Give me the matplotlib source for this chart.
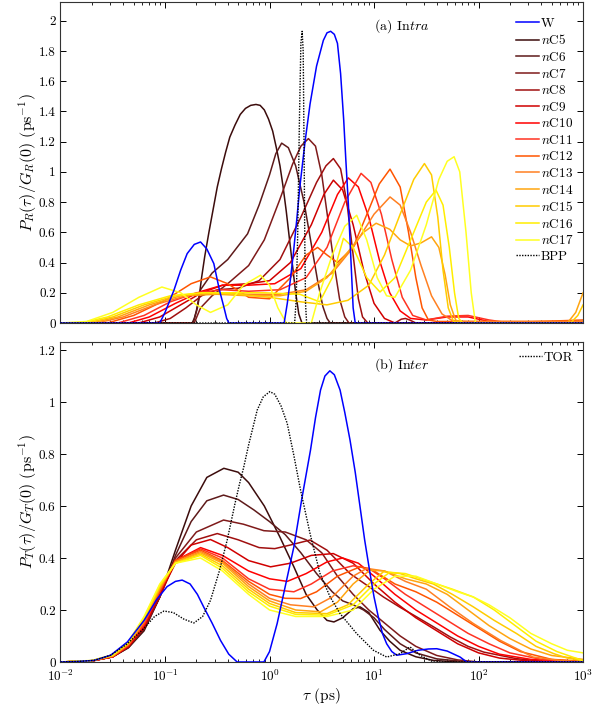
import numpy as np
import matplotlib
matplotlib.use("Agg")
import matplotlib.pyplot as plt

plt.rcParams['font.family'] = 'serif'
plt.rcParams['font.serif'] = ['cmr10']
plt.rcParams['mathtext.fontset'] = 'cm'
plt.rcParams['axes.formatter.use_mathtext'] = True

# ---- data: log10(tau / ps) and P(tau)/G(0) ----
names = ['nC5', 'nC6', 'nC7', 'nC8', 'nC9', 'nC10', 'nC11',
         'nC12', 'nC13', 'nC14', 'nC15', 'nC16', 'nC17']
colors = ['#3c0c0c', '#5e1a1a', '#7f1a1a', '#a00f0f', '#d00000', '#ff0000',
          '#ff3322', '#ff5500', '#ff8022', '#ffa510', '#ffcc00', '#ffee00', '#ffff22']

# (a) intra
a_W_lt = [-2, -1.05, -1.0, -0.915, -0.85, -0.788, -0.72, -0.66, -0.60, -0.533, -0.48, -0.437, -0.41, -0.389,
          0.14, 0.17, 0.20, 0.228, 0.26, 0.29, 0.34, 0.388, 0.45, 0.515, 0.55, 0.585, 0.62, 0.65, 0.68, 0.71,
          0.73, 0.754, 0.78, 0.80, 0.82, 3]
a_W_p = [0, 0, 0.07, 0.216, 0.35, 0.459, 0.52, 0.536, 0.49, 0.393, 0.22, 0.106, 0.03, 0,
         0, 0.13, 0.29, 0.46, 0.68, 0.90, 1.20, 1.45, 1.70, 1.87, 1.92, 1.93, 1.91, 1.85, 1.65, 1.34,
         1.08, 0.79, 0.40, 0.10, 0, 0]

a_BPP_lt = [-2, 0.24, 0.255, 0.27, 0.285, 0.30, 0.312, 0.322, 0.33, 0.338, 0.345, 0.355, 3]
a_BPP_p = [0, 0, 0.15, 0.6, 1.3, 1.85, 1.93, 1.8, 1.2, 0.5, 0.12, 0, 0]

a_nC5_lt = [-2, -0.74, -0.72, -0.70, -0.67, -0.65, -0.62, -0.58, -0.54, -0.50, -0.46, -0.42, -0.38, -0.33,
            -0.28, -0.23, -0.18, -0.13, -0.09, -0.05, -0.01, 0.03, 0.065, 0.10, 0.13, 0.16, 0.185, 0.21, 0.23,
            0.25, 0.28, 0.31, 3]
a_nC5_p = [0, 0, 0.03, 0.08, 0.19, 0.30, 0.44, 0.60, 0.75, 0.90, 1.02, 1.13, 1.23, 1.31,
           1.38, 1.42, 1.44, 1.446, 1.44, 1.41, 1.35, 1.27, 1.16, 1.04, 0.90, 0.74, 0.59, 0.44, 0.32,
           0.20, 0.06, 0, 0]

a_nC6_lt = [-2, -0.73, -0.69, -0.66, -0.55, -0.40, -0.21, -0.10, 0.0, 0.06, 0.116, 0.18, 0.25, 0.33, 0.40, 0.46, 0.51, 0.55, 0.58, 3]
a_nC6_p = [0, 0, 0.10, 0.22, 0.33, 0.42, 0.59, 0.78, 0.98, 1.12, 1.19, 1.16, 1.04, 0.80, 0.52, 0.28, 0.11, 0.03, 0, 0]

a_nC7_lt = [-2, -0.72, -0.66, -0.55, -0.40, -0.20, -0.05, 0.10, 0.22, 0.30, 0.372, 0.44, 0.50, 0.56, 0.62, 0.67, 0.72, 0.76, 3]
a_nC7_p = [0, 0, 0.10, 0.18, 0.26, 0.38, 0.55, 0.82, 1.05, 1.17, 1.22, 1.17, 0.98, 0.68, 0.38, 0.16, 0.04, 0, 0]

a_nC8_lt = [-2, -1.1, -0.95, -0.8, -0.65, -0.5, -0.3, -0.1, 0.1, 0.3, 0.45, 0.54, 0.611, 0.68, 0.74, 0.80, 0.85, 0.89, 0.94,
            1.2, 1.26, 1.30, 1.34, 1.4, 3]
a_nC8_p = [0, 0, 0.03, 0.10, 0.18, 0.22, 0.23, 0.28, 0.42, 0.70, 0.93, 1.04, 1.088, 1.02, 0.80, 0.45, 0.16, 0.04, 0,
           0, 0.025, 0.03, 0.02, 0, 0]

a_nC9_lt = [-2, -1.25, -1.05, -0.85, -0.65, -0.45, -0.2, 0.0, 0.2, 0.4, 0.52, 0.611, 0.7, 0.8, 0.9, 1.0, 1.1, 1.2, 3]
a_nC9_p = [0, 0, 0.04, 0.12, 0.20, 0.25, 0.26, 0.28, 0.40, 0.65, 0.85, 0.945, 0.88, 0.65, 0.35, 0.13, 0.03, 0, 0]

a_nC10_lt = [-2, -1.35, -1.15, -0.9, -0.65, -0.45, -0.2, 0.05, 0.3, 0.5, 0.65, 0.754, 0.85, 0.95, 1.05, 1.15, 1.25,
             1.35, 1.5, 1.7, 1.9, 2.1, 2.3, 3]
a_nC10_p = [0, 0, 0.04, 0.13, 0.21, 0.25, 0.25, 0.26, 0.36, 0.60, 0.85, 0.96, 0.90, 0.70, 0.42, 0.20, 0.08,
            0.03, 0.02, 0.04, 0.04, 0.01, 0, 0]

a_nC11_lt = [-2, -1.45, -1.2, -0.95, -0.7, -0.45, -0.2, 0.1, 0.35, 0.55, 0.72, 0.876, 0.97, 1.07, 1.17, 1.27, 1.37,
             1.5, 1.7, 1.9, 2.1, 2.3, 3]
a_nC11_p = [0, 0, 0.05, 0.14, 0.20, 0.22, 0.21, 0.22, 0.30, 0.50, 0.80, 0.99, 0.93, 0.72, 0.42, 0.17, 0.05,
            0.02, 0.045, 0.05, 0.02, 0, 0]

a_nC12_lt = [-2, -1.55, -1.3, -1.0, -0.75, -0.565, -0.4, -0.2, 0.0, 0.2, 0.35, 0.46, 0.55, 0.65, 0.8, 0.95, 1.05,
             1.153, 1.25, 1.33, 1.4, 1.46, 1.52, 1.6, 2.5, 2.8, 3]
a_nC12_p = [0, 0, 0.05, 0.15, 0.26, 0.305, 0.26, 0.17, 0.16, 0.30, 0.45, 0.50, 0.45, 0.40, 0.50, 0.75, 0.92,
            1.018, 0.90, 0.60, 0.30, 0.10, 0.02, 0.01, 0.01, 0.015, 0.02]

a_nC13_lt = [-2, -1.65, -1.4, -1.1, -0.8, -0.5, -0.2, 0.1, 0.35, 0.6, 0.8, 1.0, 1.153, 1.25, 1.35, 1.45, 1.55,
             1.65, 1.75, 1.9, 3]
a_nC13_p = [0, 0, 0.04, 0.12, 0.18, 0.20, 0.19, 0.19, 0.22, 0.33, 0.50, 0.72, 0.834, 0.78, 0.60, 0.38, 0.18,
            0.06, 0.015, 0.01, 0.01]

a_nC14_lt = [-2, -1.7, -1.45, -1.15, -0.85, -0.5, -0.2, 0.1, 0.35, 0.55, 0.75, 0.9, 1.02, 1.15, 1.25, 1.35, 1.45,
             1.55, 1.62, 1.68, 1.73, 1.78, 1.85, 2.85, 2.93, 3.0]
a_nC14_p = [0, 0, 0.04, 0.12, 0.18, 0.19, 0.18, 0.18, 0.21, 0.30, 0.47, 0.60, 0.66, 0.62, 0.55, 0.51, 0.53,
            0.57, 0.50, 0.32, 0.12, 0.02, 0, 0, 0.07, 0.2]

a_nC15_lt = [-2, -1.75, -1.5, -1.2, -0.9, -0.6, -0.3, 0.0, 0.3, 0.55, 0.75, 0.95, 1.1, 1.25, 1.38, 1.482, 1.55,
             1.61, 1.66, 1.71, 1.76, 1.85, 2.88, 2.95, 3.0]
a_nC15_p = [0, 0, 0.04, 0.12, 0.18, 0.20, 0.19, 0.17, 0.14, 0.12, 0.15, 0.25, 0.45, 0.72, 0.95, 1.055, 0.98,
            0.70, 0.35, 0.10, 0.01, 0, 0, 0.05, 0.12]

a_nC16_lt = [-2, -1.8, -1.55, -1.25, -0.95, -0.65, -0.35, -0.05, 0.29, 0.48, 0.6, 0.707, 0.8, 0.93, 1.057, 1.2,
             1.35, 1.5, 1.593, 1.66, 1.72, 1.77, 1.81, 1.85, 3]
a_nC16_p = [0, 0, 0.04, 0.12, 0.18, 0.20, 0.20, 0.20, 0.19, 0.14, 0.30, 0.56, 0.50, 0.30, 0.205, 0.30,
            0.55, 0.80, 0.879, 0.78, 0.50, 0.20, 0.03, 0, 0]

a_nC17_lt = [-2, -1.75, -1.5, -1.25, -1.03, -0.85, -0.7, -0.565, -0.4, -0.25, -0.086, 0.0, 0.08, 0.16, 0.40, 0.48,
             0.6, 0.72, 0.834, 0.93, 1.03, 1.12, 1.20, 1.35, 1.5, 1.62, 1.70, 1.766, 1.82, 1.88, 1.93, 1.97, 3]
a_nC17_p = [0, 0.01, 0.07, 0.17, 0.238, 0.20, 0.12, 0.07, 0.12, 0.25, 0.316, 0.25, 0.10, 0, 0, 0.20,
            0.45, 0.64, 0.713, 0.55, 0.30, 0.18, 0.17, 0.35, 0.65, 0.95, 1.07, 1.10, 1.00, 0.60, 0.20, 0, 0]

# (b) inter
b_W_lt = [-2, -1.84, -1.68, -1.52, -1.36, -1.2, -1.08, -0.98, -0.9, -0.836, -0.76, -0.69, -0.628, -0.55, -0.469,
          -0.39, -0.31, -0.054, 0.0, 0.073, 0.15, 0.233, 0.31, 0.392, 0.44, 0.488, 0.53, 0.577, 0.62, 0.675, 0.72,
          0.77, 0.82, 0.866, 0.91, 0.962, 1.0, 1.041, 1.08, 1.121, 1.17, 1.217, 1.312, 1.42, 1.52, 1.60, 1.70,
          1.823, 1.887, 3]
b_W_p = [0, 0.002, 0.006, 0.026, 0.077, 0.16, 0.24, 0.29, 0.31, 0.315, 0.30, 0.26, 0.21, 0.15, 0.083,
         0.03, 0, 0, 0.04, 0.148, 0.29, 0.443, 0.63, 0.815, 0.94, 1.046, 1.10, 1.12, 1.105, 1.046, 0.96,
         0.854, 0.73, 0.597, 0.47, 0.34, 0.25, 0.173, 0.11, 0.07, 0.04, 0.026, 0.032, 0.045, 0.05, 0.051, 0.042,
         0.019, 0, 0]

b_TOR_lt = [-2, -1.84, -1.68, -1.52, -1.36, -1.2, -1.1, -1.01, -0.92, -0.82, -0.724, -0.64, -0.565, -0.48, -0.405,
            -0.33, -0.29, -0.246, -0.2, -0.16, -0.118, -0.06, 0.003, 0.05, 0.11, 0.169, 0.23, 0.297, 0.39, 0.483,
            0.58, 0.675, 0.834, 0.994, 1.121, 1.249, 1.344, 1.44, 1.568, 3]
b_TOR_p = [0, 0.002, 0.006, 0.026, 0.07, 0.13, 0.175, 0.196, 0.19, 0.165, 0.15, 0.175, 0.237, 0.35, 0.469,
           0.61, 0.68, 0.751, 0.835, 0.90, 0.969, 1.02, 1.04, 1.03, 0.985, 0.918, 0.80, 0.661, 0.49, 0.34,
           0.25, 0.186, 0.109, 0.045, 0.019, 0.032, 0.058, 0.026, 0, 0]

b_nC5_lt = [-2, -1.7, -1.5, -1.35, -1.2, -1.05, -0.9, -0.75, -0.6, -0.437, -0.3, -0.2, -0.05, 0.1, 0.233, 0.35,
            0.456, 0.55, 0.616, 0.7, 0.8, 0.866, 0.95, 1.057, 1.15, 1.249, 1.4, 1.568, 1.8, 3]
b_nC5_p = [0, 0.004, 0.02, 0.055, 0.12, 0.25, 0.43, 0.60, 0.71, 0.745, 0.73, 0.69, 0.60, 0.48, 0.366, 0.26,
           0.20, 0.16, 0.154, 0.17, 0.205, 0.212, 0.19, 0.122, 0.08, 0.045, 0.02, 0.006, 0, 0]

b_nC6_lt = [-2, -1.7, -1.5, -1.35, -1.2, -1.05, -0.9, -0.75, -0.6, -0.44, -0.3, -0.15, 0.0, 0.15, 0.3, 0.45,
            0.6, 0.7, 0.8, 0.9, 1.0, 1.1, 1.25, 1.4, 1.6, 1.9, 3]
b_nC6_p = [0, 0.004, 0.02, 0.055, 0.125, 0.25, 0.41, 0.54, 0.62, 0.642, 0.625, 0.585, 0.54, 0.49, 0.42, 0.34,
           0.27, 0.235, 0.22, 0.20, 0.17, 0.125, 0.07, 0.035, 0.012, 0, 0]

b_nC7_lt = [-2, -1.7, -1.5, -1.35, -1.2, -1.05, -0.9, -0.7, -0.44, -0.25, -0.054, 0.15, 0.35, 0.5, 0.65, 0.8,
            0.95, 1.1, 1.25, 1.4, 1.6, 1.8, 2.0, 3]
b_nC7_p = [0, 0.004, 0.02, 0.058, 0.13, 0.25, 0.40, 0.50, 0.546, 0.53, 0.505, 0.50, 0.47, 0.42, 0.33, 0.26,
           0.20, 0.15, 0.10, 0.06, 0.025, 0.008, 0, 0]

b_nC8_lt = [-2, -1.7, -1.5, -1.35, -1.2, -1.05, -0.9, -0.7, -0.5, -0.3, -0.1, 0.05, 0.2, 0.387, 0.55, 0.77,
            0.95, 1.09, 1.25, 1.41, 1.57, 1.73, 1.9, 2.05, 2.36, 2.68, 3]
b_nC8_p = [0, 0.004, 0.02, 0.06, 0.13, 0.25, 0.39, 0.47, 0.494, 0.47, 0.44, 0.436, 0.45, 0.469, 0.43, 0.34,
           0.29, 0.25, 0.21, 0.173, 0.135, 0.096, 0.06, 0.038, 0.013, 0, 0]

b_nC9_lt = [-2, -1.7, -1.5, -1.35, -1.2, -1.05, -0.9, -0.75, -0.565, -0.4, -0.2, 0.01, 0.2, 0.4, 0.61, 0.8,
            1.0, 1.2, 1.4, 1.6, 1.8, 2.0, 2.2, 2.5, 3]
b_nC9_p = [0, 0.004, 0.02, 0.06, 0.135, 0.26, 0.38, 0.45, 0.471, 0.44, 0.39, 0.366, 0.38, 0.41, 0.417, 0.38,
           0.30, 0.23, 0.17, 0.12, 0.07, 0.035, 0.015, 0.003, 0]

b_nC10_lt = [-2, -1.7, -1.5, -1.35, -1.2, -1.05, -0.9, -0.66, -0.45, -0.2, 0.0, 0.17, 0.35, 0.55, 0.7, 0.85,
             1.0, 1.2, 1.4, 1.6, 1.8, 2.0, 2.2, 2.5, 3]
b_nC10_p = [0, 0.004, 0.02, 0.062, 0.14, 0.27, 0.39, 0.44, 0.41, 0.35, 0.32, 0.31, 0.34, 0.385, 0.40, 0.38,
            0.33, 0.26, 0.20, 0.15, 0.10, 0.06, 0.03, 0.01, 0]

b_nC11_lt = [-2, -1.7, -1.5, -1.35, -1.2, -1.05, -0.9, -0.66, -0.45, -0.2, 0.0, 0.233, 0.4, 0.6, 0.8, 0.95,
             1.1, 1.3, 1.5, 1.7, 1.9, 2.1, 2.3, 2.6, 3]
b_nC11_p = [0, 0.004, 0.021, 0.064, 0.145, 0.27, 0.39, 0.435, 0.40, 0.32, 0.28, 0.27, 0.30, 0.35, 0.37, 0.36,
            0.32, 0.26, 0.21, 0.16, 0.11, 0.07, 0.035, 0.01, 0.002]

b_nC12_lt = [-2, -1.7, -1.5, -1.35, -1.2, -1.05, -0.9, -0.66, -0.45, -0.2, 0.0, 0.15, 0.297, 0.45, 0.65, 0.866,
             1.0, 1.2, 1.4, 1.6, 1.8, 2.0, 2.2, 2.4, 2.7, 3]
b_nC12_p = [0, 0.005, 0.022, 0.066, 0.15, 0.275, 0.39, 0.43, 0.39, 0.31, 0.26, 0.245, 0.244, 0.27, 0.33, 0.366,
            0.35, 0.30, 0.27, 0.23, 0.18, 0.13, 0.08, 0.04, 0.01, 0.003]

b_nC13_lt = [-2, -1.7, -1.5, -1.35, -1.2, -1.05, -0.9, -0.66, -0.45, -0.2, 0.0, 0.2, 0.424, 0.6, 0.8, 0.93,
             1.1, 1.3, 1.5, 1.73, 1.95, 2.21, 2.52, 2.8, 3]
b_nC13_p = [0, 0.005, 0.023, 0.068, 0.155, 0.28, 0.385, 0.425, 0.385, 0.30, 0.245, 0.22, 0.212, 0.25, 0.33, 0.36,
            0.35, 0.31, 0.28, 0.21, 0.148, 0.083, 0.019, 0.005, 0]

b_nC14_lt = [-2, -1.7, -1.5, -1.35, -1.2, -1.05, -0.9, -0.66, -0.45, -0.2, 0.0, 0.25, 0.488, 0.65, 0.8, 0.96,
             1.1, 1.3, 1.5, 1.7, 1.9, 2.1, 2.3, 2.5, 2.7, 3]
b_nC14_p = [0, 0.005, 0.024, 0.07, 0.16, 0.285, 0.385, 0.42, 0.38, 0.29, 0.235, 0.20, 0.193, 0.23, 0.30, 0.353,
            0.35, 0.32, 0.30, 0.26, 0.20, 0.14, 0.09, 0.05, 0.025, 0.01]

b_nC15_lt = [-2, -1.7, -1.5, -1.35, -1.2, -1.05, -0.9, -0.66, -0.45, -0.2, 0.0, 0.25, 0.55, 0.75, 0.95, 1.09,
             1.25, 1.4, 1.568, 1.75, 1.95, 2.15, 2.365, 2.55, 2.72, 2.85, 3]
b_nC15_p = [0, 0.005, 0.025, 0.072, 0.165, 0.29, 0.38, 0.415, 0.37, 0.28, 0.225, 0.19, 0.186, 0.22, 0.30, 0.347,
            0.34, 0.32, 0.30, 0.26, 0.212, 0.16, 0.109, 0.06, 0.032, 0.015, 0.005]

b_nC16_lt = [-2, -1.7, -1.5, -1.35, -1.2, -1.05, -0.9, -0.66, -0.45, -0.2, 0.0, 0.25, 0.55, 0.8, 1.0, 1.15,
             1.3, 1.45, 1.6, 1.75, 1.95, 2.15, 2.35, 2.55, 2.75, 3]
b_nC16_p = [0, 0.005, 0.026, 0.075, 0.17, 0.295, 0.38, 0.41, 0.36, 0.27, 0.215, 0.183, 0.18, 0.22, 0.30, 0.345,
            0.34, 0.32, 0.30, 0.28, 0.25, 0.20, 0.14, 0.08, 0.04, 0.005]

b_nC17_lt = [-2, -1.7, -1.5, -1.35, -1.2, -1.05, -0.9, -0.66, -0.45, -0.2, 0.0, 0.25, 0.55, 0.8, 1.0, 1.2,
             1.4, 1.6, 1.8, 1.95, 2.1, 2.3, 2.5, 2.7, 2.85, 3]
b_nC17_p = [0, 0.006, 0.028, 0.078, 0.175, 0.30, 0.38, 0.40, 0.35, 0.26, 0.20, 0.175, 0.175, 0.20, 0.28, 0.33,
            0.33, 0.30, 0.27, 0.25, 0.22, 0.17, 0.11, 0.07, 0.045, 0.035]

intra = [(a_nC5_lt, a_nC5_p), (a_nC6_lt, a_nC6_p), (a_nC7_lt, a_nC7_p), (a_nC8_lt, a_nC8_p),
         (a_nC9_lt, a_nC9_p), (a_nC10_lt, a_nC10_p), (a_nC11_lt, a_nC11_p), (a_nC12_lt, a_nC12_p),
         (a_nC13_lt, a_nC13_p), (a_nC14_lt, a_nC14_p), (a_nC15_lt, a_nC15_p), (a_nC16_lt, a_nC16_p),
         (a_nC17_lt, a_nC17_p)]
inter = [(b_nC5_lt, b_nC5_p), (b_nC6_lt, b_nC6_p), (b_nC7_lt, b_nC7_p), (b_nC8_lt, b_nC8_p),
         (b_nC9_lt, b_nC9_p), (b_nC10_lt, b_nC10_p), (b_nC11_lt, b_nC11_p), (b_nC12_lt, b_nC12_p),
         (b_nC13_lt, b_nC13_p), (b_nC14_lt, b_nC14_p), (b_nC15_lt, b_nC15_p), (b_nC16_lt, b_nC16_p),
         (b_nC17_lt, b_nC17_p)]

fig = plt.figure(figsize=(6.08, 7.08), dpi=100)
ax1 = fig.add_axes([0.0995, 0.5438, 0.8595, 0.4534])
ax2 = fig.add_axes([0.0995, 0.065, 0.8595, 0.452])

lw = 1.1
fs_tick = 9.5
fs_leg = 9.5


def draw(ax, curves, W, ref, ref_name):
    hW, = ax.plot(10 ** np.array(W[0]), W[1], color='#0000ff', lw=lw, label='W', zorder=4)
    hs = []
    for (lt, p), nm, c in zip(curves, names, colors):
        h, = ax.plot(10 ** np.array(lt), p, color=c, lw=lw, label='$n$' + nm[1:])
        hs.append(h)
    hr, = ax.plot(10 ** np.array(ref[0]), ref[1], color='k', lw=1.0, ls=(0, (1, 1)), label=ref_name, zorder=5)
    ax.set_xscale('log')
    ax.set_xlim(1e-2, 1e3)
    ax.tick_params(which='both', direction='in', top=True, right=True, labelsize=fs_tick)
    ax.tick_params(axis='x', which='both', pad=5)
    ax.tick_params(which='major', length=4.5, width=0.7)
    ax.tick_params(which='minor', length=2.5, width=0.6)
    for s in ax.spines.values():
        s.set_linewidth(0.8)
        s.set_color('#333333')
    return hW, hs, hr


hW, hs, hr = draw(ax1, intra, (a_W_lt, a_W_p), (a_BPP_lt, a_BPP_p), 'BPP')
ax1.set_ylim(0, 2.124)
ax1.set_yticks(np.arange(0, 2.01, 0.2))
ax1.set_yticklabels(['0', '0.2', '0.4', '0.6', '0.8', '1', '1.2', '1.4', '1.6', '1.8', '2'])
ax1.tick_params(labelbottom=False)
ax1.set_ylabel(r'$P_R(\tau)/G_R(0)$ (ps$^{-1}$)', fontsize=11.5, labelpad=0)
ax1.legend(handles=[hW] + hs + [hr], loc='upper right', bbox_to_anchor=(1.0, 0.982), frameon=False,
           fontsize=fs_leg, handlelength=1.75, handletextpad=0.15, labelspacing=0.27, borderaxespad=0.35)
ax1.text(0.60, 0.925, r'(a) In$\mathit{tra}$', transform=ax1.transAxes, fontsize=10, va='center')

hW2, hs2, hr2 = draw(ax2, inter, (b_W_lt, b_W_p), (b_TOR_lt, b_TOR_p), 'TOR')
ax2.set_ylim(0, 1.231)
ax2.set_yticks(np.arange(0, 1.21, 0.2))
ax2.set_yticklabels(['0', '0.2', '0.4', '0.6', '0.8', '1', '1.2'])
ax2.set_ylabel(r'$P_T(\tau)/G_T(0)$ (ps$^{-1}$)', fontsize=11.5, labelpad=0)
ax2.set_xlabel(r'$\tau$ (ps)', fontsize=11, labelpad=1)
ax2.legend(handles=[hr2], loc='upper right', frameon=False, fontsize=fs_leg,
           handlelength=1.75, handletextpad=0.15, borderaxespad=0.35)
ax2.text(0.60, 0.928, r'(b) In$\mathit{ter}$', transform=ax2.transAxes, fontsize=10, va='center')

fig.savefig('out.png', dpi=100)
